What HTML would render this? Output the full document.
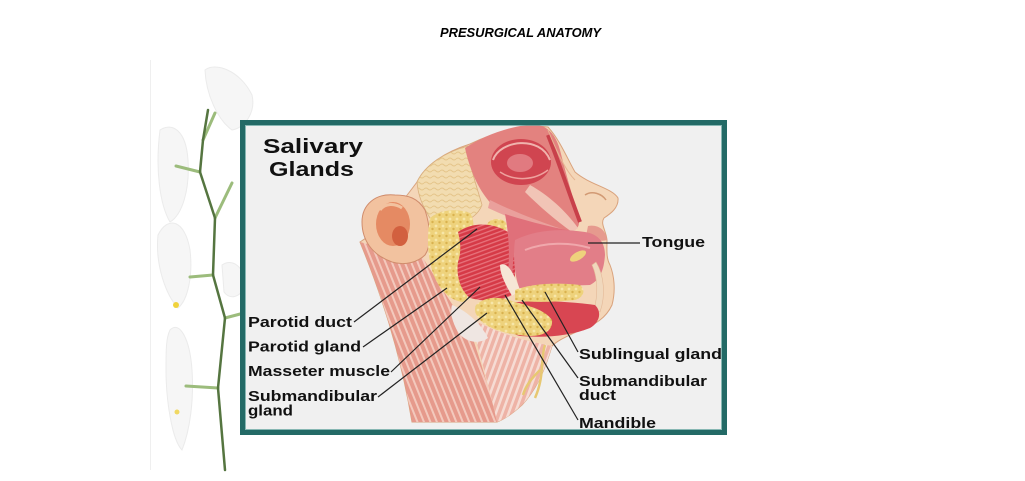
<!DOCTYPE html>
<html><head><meta charset="utf-8"><style>
html,body{margin:0;padding:0;background:#fff;width:1025px;height:481px;overflow:hidden}
svg{display:block}
</style></head><body>
<svg width="1025" height="481" viewBox="0 0 1025 481" xmlns="http://www.w3.org/2000/svg">
<defs>
<pattern id="strp" width="6" height="6" patternUnits="userSpaceOnUse" patternTransform="rotate(-22)">
<rect width="6" height="6" fill="#e69a8c"/><rect width="2" height="6" fill="#f3c9bd"/>
</pattern>
<pattern id="strp2" width="6" height="6" patternUnits="userSpaceOnUse" patternTransform="rotate(20)">
<rect width="6" height="6" fill="#eeb3a6"/><rect width="2.5" height="6" fill="#f6dcd4"/>
</pattern>
<pattern id="mstrp" width="4" height="4" patternUnits="userSpaceOnUse" patternTransform="rotate(70)">
<rect width="4" height="4" fill="#d63a47"/><rect width="1.3" height="4" fill="#e8737c"/>
</pattern>
<pattern id="glnd" width="7" height="7" patternUnits="userSpaceOnUse">
<rect width="7" height="7" fill="#eed27c"/><circle cx="2" cy="2" r="1.4" fill="#f7e6a8"/><circle cx="5.5" cy="5" r="1.2" fill="#d9b24f"/>
</pattern>
<pattern id="scalp" width="8" height="6" patternUnits="userSpaceOnUse">
<rect width="8" height="6" fill="#f2dcb0"/><path d="M0 3 Q2 1 4 3 T8 3" stroke="#e5c58a" stroke-width="1" fill="none"/>
</pattern>
</defs>

<!-- title -->
<text x="440" y="37" font-family="Liberation Sans, sans-serif" font-size="12.5" font-weight="bold" font-style="italic" textLength="161" lengthAdjust="spacingAndGlyphs" fill="#000">PRESURGICAL ANATOMY</text>

<!-- faint slide edge -->
<line x1="150.5" y1="60" x2="150.5" y2="470" stroke="#efefef" stroke-width="1"/>

<!-- orchid petals -->
<g fill="#f6f6f6" stroke="#ebebeb" stroke-width="1">
<path d="M205,70 C215,62 240,70 252,95 C256,112 245,128 232,130 C218,120 206,95 205,70 Z"/>
<path d="M160,130 C172,122 186,130 188,160 C190,190 182,215 170,222 C160,205 155,170 160,130 Z"/>
<path d="M158,235 C168,215 185,220 190,250 C193,275 188,300 178,308 C166,295 155,265 158,235 Z"/>
<path d="M170,330 C180,320 190,340 192,370 C194,400 190,430 182,450 C172,440 166,400 166,370 C166,350 166,338 170,330 Z"/>
<path d="M222,265 C232,258 244,266 246,285 C240,298 230,300 224,292 Z"/>
</g>
<circle cx="176" cy="305" r="3" fill="#f0d23c"/>
<circle cx="177" cy="412" r="2.5" fill="#f0d862"/>
<!-- orchid stem -->
<g fill="none" stroke-linecap="round">
<path d="M200,172 L176,166 M215,218 L232,183 M213,275 L190,277 M225,318 L244,313 M218,388 L186,386 M203,140 L215,113" stroke="#9cbc7c" stroke-width="3"/>
<path d="M208,110 L203,140 L200,172 L215,218 L213,275 L225,318 L218,388 L225,470" stroke="#557540" stroke-width="2.5"/>
</g>

<!-- frame background -->
<rect x="242.5" y="122.5" width="482" height="310" fill="#f0f0f0"/>

<!-- illustration -->
<g>
<!-- head base skin -->
<path d="M417,182 C425,165 445,152 470,144 C495,132 525,124 548,127 C560,140 568,160 575,172 C590,185 612,188 618,198 C619,208 610,214 604,218 C600,224 606,230 607,240 C607,250 606,258 610,265 C614,275 616,290 612,305 C606,318 595,325 580,330 C568,336 558,340 552,346 C546,366 538,388 522,405 C512,414 505,419 497,422 L412,422 C405,380 392,320 360,242 C380,230 400,205 417,182 Z" fill="#f4d6b8" stroke="#d9a27c" stroke-width="1"/>
<!-- lighter neck muscles -->
<path d="M470,318 C500,335 530,342 552,346 C546,366 538,388 522,405 C512,414 505,419 497,422 C490,390 480,355 470,318 Z" fill="url(#strp2)"/>
<!-- neck striped muscles -->
<path d="M360,242 L423,258 C440,285 455,310 470,330 C480,360 490,390 497,422 L412,422 C405,380 392,320 360,242 Z" fill="url(#strp)"/>
<!-- pale connective area -->
<path d="M452,305 C465,310 480,322 488,338 C478,345 465,342 458,332 C452,322 450,312 452,305 Z" fill="#efe6e2"/>
<!-- scalp -->
<path d="M417,182 C425,165 445,152 468,146 C470,170 478,190 482,205 C478,215 470,220 460,222 L430,218 C422,205 418,195 417,182 Z" fill="url(#scalp)" stroke="#d9b07f" stroke-width="0.8"/>
<!-- upper face muscles -->
<path d="M465,148 C485,135 510,126 535,124 C548,126 556,135 560,150 C565,170 572,195 578,215 C582,228 575,232 565,232 C545,228 520,220 500,212 C485,200 472,180 465,148 Z" fill="#e3827f"/>
<ellipse cx="521" cy="162" rx="30" ry="23" fill="#d04550"/>
<path d="M493,160 C500,140 540,135 550,160" stroke="#f0b3ad" stroke-width="2" fill="none"/>
<path d="M500,172 C515,182 535,180 548,170" stroke="#eea29e" stroke-width="1.5" fill="none"/>
<ellipse cx="520" cy="163" rx="13" ry="9" fill="#e17a80"/>
<path d="M530,185 C548,195 565,210 578,228 L572,232 C555,220 538,205 525,192 Z" fill="#f1c4b6"/>
<path d="M490,200 C510,210 540,222 565,230 L560,234 C535,228 510,218 488,208 Z" fill="#eaa09c"/>
<path d="M548,135 C558,160 568,190 580,222" stroke="#c8404a" stroke-width="4" fill="none"/>
<!-- nose detail -->
<path d="M585,195 C592,190 602,194 606,200" stroke="#d29a74" stroke-width="1.5" fill="none"/>
<path d="M548,130 C556,150 565,170 575,180" stroke="#e6b592" stroke-width="1" fill="none"/>
<!-- ear -->
<path d="M395,195 C375,193 362,205 362,222 C362,240 372,255 392,262 C405,266 418,262 425,255 C432,245 430,225 425,210 C418,198 408,195 395,195 Z" fill="#f2c29f" stroke="#d08c6c" stroke-width="1"/>
<ellipse cx="393" cy="224" rx="17" ry="22" fill="#e58a63"/>
<ellipse cx="400" cy="236" rx="8" ry="10" fill="#d2603f"/>
<path d="M380,210 C385,203 395,203 402,208" stroke="#f2c29f" stroke-width="3" fill="none"/>
<!-- parotid gland -->
<path d="M430,218 C440,210 455,208 470,213 C476,222 474,235 465,245 C458,258 456,272 462,285 C468,292 470,300 462,302 C450,300 440,290 435,278 C428,262 426,240 430,218 Z" fill="url(#glnd)"/>
<ellipse cx="497" cy="226" rx="10" ry="7" fill="url(#glnd)"/>
<!-- masseter -->
<path d="M458,232 C472,222 492,222 508,232 C516,250 517,275 512,295 C500,302 485,302 470,298 C460,290 456,275 458,262 C462,250 460,240 458,232 Z" fill="url(#mstrp)"/>
<!-- cheek -->
<path d="M505,214 C530,222 555,228 578,232 L580,240 C560,240 540,238 520,240 C512,250 512,270 513,290 L506,290 C510,265 510,240 505,214 Z" fill="#e0707a"/>
<!-- lips -->
<path d="M588,226 C598,224 606,230 607,240 C600,242 592,240 586,236 Z" fill="#e69a8e"/>
<!-- tongue / mouth -->
<path d="M515,240 C535,230 560,228 585,232 C598,234 605,242 605,255 C604,270 600,280 590,285 C570,286 545,285 520,290 C514,275 513,255 515,240 Z" fill="#e27e88"/>
<path d="M525,250 C545,242 570,242 590,248" stroke="#f0a8ac" stroke-width="2" fill="none"/>
<ellipse cx="578" cy="256" rx="9" ry="4" transform="rotate(-30 578 256)" fill="#eed27c"/>
<!-- chin skin strip -->
<path d="M596,262 C604,275 606,295 600,312 L594,310 C598,295 598,278 592,265 Z" fill="#f0d8bd" stroke="#e3b998" stroke-width="0.6"/>
<!-- bone strip -->
<path d="M500,265 C506,262 512,268 520,290 L512,296 C506,285 500,275 500,265 Z" fill="#f6e6d6"/>
<!-- red floor -->
<path d="M490,305 C520,300 560,300 595,305 C602,312 600,322 590,328 C570,336 545,338 520,336 C505,332 492,320 490,305 Z" fill="#d84652"/>
<!-- sublingual -->
<path d="M515,290 C530,284 555,282 580,285 C586,290 584,297 575,300 C555,302 532,303 515,300 Z" fill="url(#glnd)"/>
<!-- submandibular -->
<path d="M476,305 C485,296 500,296 515,302 C530,306 545,310 552,320 C553,330 545,336 530,336 C510,335 490,330 480,320 C475,314 474,310 476,305 Z" fill="url(#glnd)"/>
<!-- yellow twigs -->
<path d="M545,345 C540,360 545,375 535,398 M540,370 C532,378 526,385 523,395" stroke="#e7c872" stroke-width="2.5" fill="none"/>
</g>

<!-- frame border -->
<rect x="242.5" y="122.5" width="482" height="310" fill="none" stroke="#236a66" stroke-width="5"/>
<rect x="245.5" y="125.5" width="476" height="304" fill="none" stroke="#5a9e98" stroke-width="1" opacity="0.7"/>

<!-- leader lines -->
<g stroke="#222" stroke-width="1.2" fill="none">
<line x1="354" y1="322" x2="477" y2="229"/>
<line x1="363" y1="347" x2="447" y2="288"/>
<line x1="391" y1="372" x2="480" y2="287"/>
<line x1="378" y1="397" x2="487" y2="313"/>
<line x1="578" y1="352" x2="545" y2="292"/>
<line x1="578" y1="378" x2="522" y2="300"/>
<line x1="578" y1="420" x2="505" y2="295"/>
<line x1="588" y1="243" x2="640" y2="243"/>
</g>

<!-- labels -->
<g font-family="Liberation Sans, Arial, sans-serif" font-weight="bold" fill="#111">
<text x="263" y="153" font-size="20.5" textLength="100" lengthAdjust="spacingAndGlyphs">Salivary</text>
<text x="269" y="176" font-size="20.5" textLength="85" lengthAdjust="spacingAndGlyphs">Glands</text>
<g font-size="14.8">
<text x="248" y="327" textLength="104" lengthAdjust="spacingAndGlyphs">Parotid duct</text>
<text x="248" y="351.5" textLength="113" lengthAdjust="spacingAndGlyphs">Parotid gland</text>
<text x="248" y="376" textLength="142" lengthAdjust="spacingAndGlyphs">Masseter muscle</text>
<text x="248" y="401" textLength="129" lengthAdjust="spacingAndGlyphs">Submandibular</text>
<text x="248" y="415.5" textLength="45" lengthAdjust="spacingAndGlyphs">gland</text>
<text x="642" y="247" textLength="63" lengthAdjust="spacingAndGlyphs">Tongue</text>
<text x="579" y="359" textLength="143" lengthAdjust="spacingAndGlyphs">Sublingual gland</text>
<text x="579" y="386" textLength="128" lengthAdjust="spacingAndGlyphs">Submandibular</text>
<text x="579" y="400" textLength="37" lengthAdjust="spacingAndGlyphs">duct</text>
<text x="579" y="428" textLength="77" lengthAdjust="spacingAndGlyphs">Mandible</text>
</g>
</g>
</svg>
</body></html>
